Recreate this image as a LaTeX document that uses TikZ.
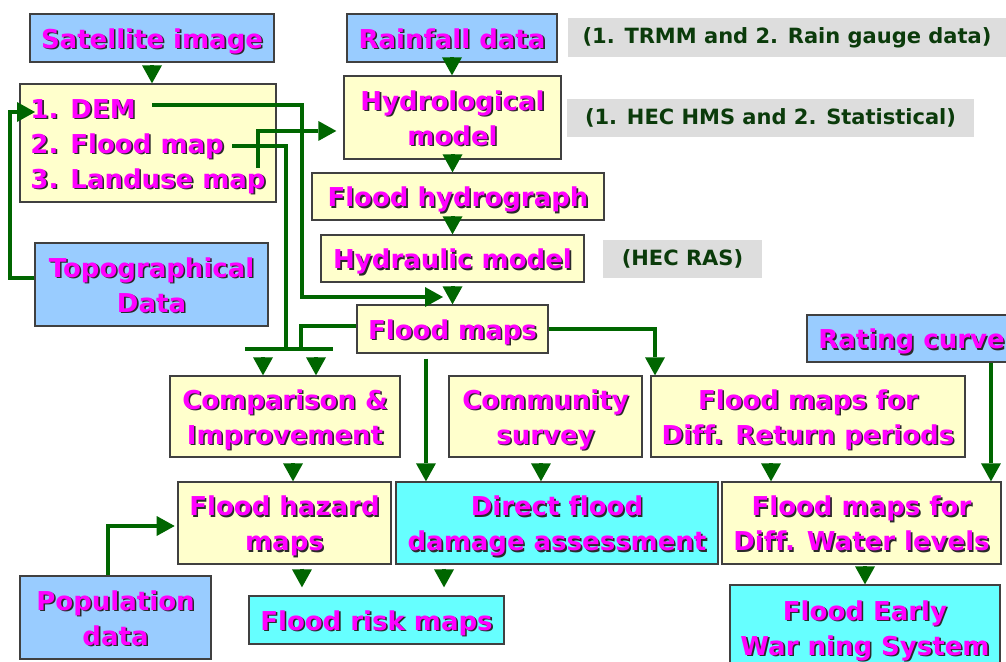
\documentclass[tikz,border=0pt]{standalone}
\usepackage{fontspec}
\usetikzlibrary{arrows.meta,calc}
\newfontfamily\boxfont{DejaVu Sans}[Ligatures=NoCommon]
\definecolor{bluec}{HTML}{99CCFF}
\definecolor{yellowc}{HTML}{FFFFCC}
\definecolor{cyanc}{HTML}{66FFFF}
\definecolor{grayc}{HTML}{DDDDDD}
\definecolor{greenc}{HTML}{006600}
\definecolor{magc}{HTML}{FF00FF}
\definecolor{shadc}{HTML}{2A2A2A}
\definecolor{labc}{HTML}{0B3B0B}
\newcommand\shtext[2][c]{\raisebox{-3pt}[\height][\depth]{\makebox[0pt][l]{\kern1.2pt\raisebox{-1.2pt}{\color{shadc}\begin{tabular}{@{}#1@{}}#2\end{tabular}}}\begin{tabular}{@{}#1@{}}#2\end{tabular}}}
\tikzset{
  box/.style={draw=black!75, line width=1pt, inner sep=0pt, text=magc, align=center,
    font=\boxfont\bfseries\fontsize{19.5pt}{26.25pt}\selectfont},
  bluebox/.style={box, fill=bluec},
  yelbox/.style={box, fill=yellowc},
  cyabox/.style={box, fill=cyanc},
  graybox/.style={draw=none, fill=grayc, inner sep=0pt, text=labc,
    font=\boxfont\bfseries\fontsize{15.75pt}{18pt}\selectfont},
  conn/.style={draw=greenc, line width=3pt},
  arr/.style={conn, -{Triangle[length=13.5pt,width=15pt,line width=0pt]}},
  headarr/.style={conn, -{Triangle[length=13.5pt,width=15pt,line width=0pt]}},
}
\begin{document}
\begin{tikzpicture}[x=0.75pt,y=-0.75pt]
\useasboundingbox (0,0) rectangle (1006,661);
% nodes
\node[bluebox, minimum width=183pt, minimum height=36pt] (sat) at (152,38) {\shtext{Satellite image}};
\node[bluebox, minimum width=157.5pt, minimum height=36pt] (rain) at (452,38) {\shtext{Rainfall data}};
\node[graybox, minimum width=328.5pt, minimum height=29.25pt] (g1) at (787,37.5) {(1. TRMM and 2. Rain gauge data)};
\node[yelbox, minimum width=192pt, minimum height=88.5pt] (dem) at (148,143) {\shtext[l]{1. DEM\\2. Flood map\\3. Landuse map}};
\node[yelbox, minimum width=162.75pt, minimum height=62.25pt] (hydro) at (452.5,117.5) {\shtext{Hydrological\\model}};
\node[graybox, minimum width=305.25pt, minimum height=28.5pt] (g2) at (770.5,118) {(1. HEC HMS and 2. Statistical)};
\node[yelbox, minimum width=219pt, minimum height=35.25pt] (hgraph) at (458,196.5) {\shtext{Flood hydrograph}};
\node[yelbox, minimum width=197.25pt, minimum height=35.25pt] (hraul) at (452.5,258.5) {\shtext{Hydraulic model}};
\node[graybox, minimum width=119.25pt, minimum height=28.5pt] (g3) at (682.5,259) {(HEC RAS)};
\node[bluebox, minimum width=174.75pt, minimum height=62.25pt] (topo) at (151.5,284.5) {\shtext{Topographical\\Data}};
\node[yelbox, minimum width=143.25pt, minimum height=36pt] (fmaps) at (452.5,329) {\shtext{Flood maps}};
\node[bluebox, minimum width=156.75pt, minimum height=35.25pt] (rating) at (911.5,338.5) {\shtext{Rating curve}};
\node[yelbox, minimum width=172.5pt, minimum height=60.75pt] (comp) at (285,416.5) {\shtext{Comparison \&\\Improvement}};
\node[yelbox, minimum width=144.75pt, minimum height=60.75pt] (comm) at (545.5,416.5) {\shtext{Community\\survey}};
\node[yelbox, minimum width=235.5pt, minimum height=60.75pt] (fmret) at (808,416.5) {\shtext{Flood maps for\\Diff. Return periods}};
\node[yelbox, minimum width=159.75pt, minimum height=61.5pt] (fhaz) at (284.5,523) {\shtext{Flood hazard\\maps}};
\node[cyabox, minimum width=241.5pt, minimum height=61.5pt] (dfda) at (557,523) {\shtext{Direct flood\\damage assessment}};
\node[yelbox, minimum width=209.25pt, minimum height=61.5pt] (fmwl) at (861.5,523) {\shtext{Flood maps for\\Diff. Water levels}};
\node[bluebox, minimum width=143.25pt, minimum height=62.25pt] (pop) at (115.5,617.5) {\shtext{Population\\data}};
\node[cyabox, minimum width=191.25pt, minimum height=36pt] (frisk) at (376.5,620) {\shtext{Flood risk maps}};
\node[cyabox, minimum width=202.5pt, minimum height=63.75pt] (ews) at (865,627.5) {\shtext{Flood Early\\War ning System}};
% free ends
\coordinate (demout) at (152,105);
\coordinate (fmout) at (232,146);
\coordinate (luout) at (258,168);
\coordinate (demin) at (35,112);
\coordinate (demend) at (443,297);
\coordinate (jA) at (286,349);
\coordinate (jB) at (301,349);
\coordinate (barL) at (245,349);
\coordinate (barR) at (333,349);
\coordinate (t1) at (263,349);
\coordinate (t2) at (316,349);
% short head-only arrows
\draw[headarr, shorten <=3pt] (sat.south) -- (sat.south |- dem.north);
\draw[headarr] (rain.south) -- (rain.south |- hydro.north);
\draw[headarr] (hydro.south) -- (hydro.south |- hgraph.north);
\draw[headarr] (hraul.north |- hgraph.south) -- (hraul.north);
\draw[headarr, shorten <=3.75pt] (hraul.south) -- (fmaps.north);
\draw[headarr, shorten <=6pt] (t1) -- (t1 |- comp.north);
\draw[headarr, shorten <=6pt] (t2) -- (t2 |- comp.north);
\draw[headarr, shorten <=5.25pt] ([xshift=6pt]comp.south) -- ([xshift=6pt]comp.south |- fhaz.north);
\draw[headarr, shorten <=5.25pt] ([xshift=-3.4pt]comm.south) -- ([xshift=-3.4pt]comm.south |- dfda.north);
\draw[headarr, shorten <=5.25pt] ([xshift=-27.75pt]fmret.south) -- ([xshift=-27.75pt]fmret.south |- fmwl.north);
\draw[headarr, shorten <=3pt, shorten >=6pt] ([xshift=13.1pt]fhaz.south) -- ([xshift=13.1pt]fhaz.south |- frisk.north);
\draw[headarr, shorten <=3pt, shorten >=6pt] ([xshift=-84.75pt]dfda.south) -- ([xshift=-84.75pt]dfda.south |- frisk.north);
\draw[headarr, shorten <=2.25pt] (ews.north |- fmwl.south) -- (ews.north);
% long connectors
\draw[arr] ([yshift=5pt]topo.west) -- ++(-24,0) |- (demin);
\draw[arr] (demout) -- ++(150,0) |- (demend);
\draw[arr, shorten >=5.25pt] (luout) |- ([yshift=-10.1pt]hydro.west);
\draw[conn] (barL) -- (barR);
\draw[conn] (fmout) -| (jA);
\draw[conn] ([yshift=2.25pt]fmaps.west) -| (jB);
\draw[arr, shorten <=3.75pt] ([xshift=-19.9pt]fmaps.south) -- ([xshift=-19.9pt]fmaps.south |- dfda.north);
\draw[arr] (fmaps.east) -| ([xshift=-114.75pt]fmret.north);
\draw[arr] ([xshift=59.6pt]rating.south) -- ([xshift=59.6pt]rating.south |- fmwl.north);
\draw[arr, shorten >=2pt] ([xshift=-5.6pt]pop.north) |- ([yshift=-2.25pt]fhaz.west);
\end{tikzpicture}
\end{document}
